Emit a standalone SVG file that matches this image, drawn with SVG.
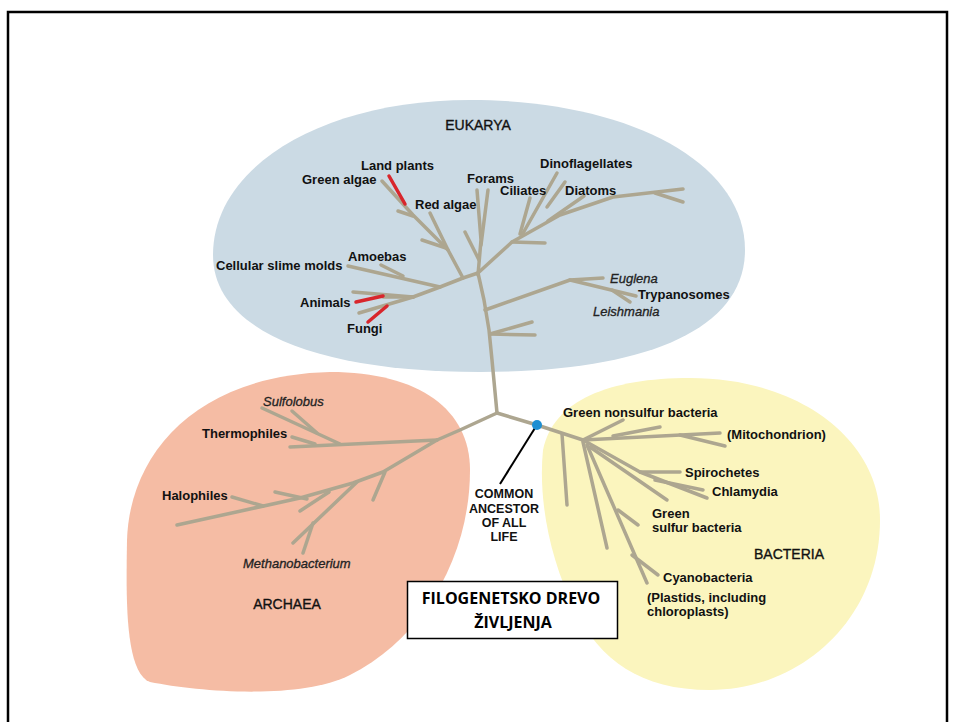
<svg xmlns="http://www.w3.org/2000/svg" width="954" height="722" viewBox="0 0 954 722">
<style>
.br{fill:none;stroke:#ADA690;stroke-width:3.5;stroke-linecap:round;stroke-linejoin:round}
.rd{fill:none;stroke:#D8262C;stroke-width:3.5;stroke-linecap:round}
.lb{font-family:"Liberation Sans",Arial,sans-serif;font-size:13px;font-weight:bold;fill:#111}
.it{font-style:italic;font-weight:normal;fill:#222;stroke:#222;stroke-width:0.3}
.grp{font-family:"Liberation Sans",Arial,sans-serif;font-size:14px;fill:#111;stroke:#111;stroke-width:0.35}
.ttl{font-family:"Open Sans","Liberation Sans",sans-serif;font-size:16px;font-weight:bold;fill:#000}
</style>
<rect width="954" height="722" fill="#fff"/>
<path d="M8,722 V12 H947 V722" fill="none" stroke="#000" stroke-width="2.5"/>

<g id="eukarya-area">
<path d="M470,100 C625,100 745,160 745,250 C745,332 640,372 480,372 C320,372 213,332 213,255 C213,165 325,100 470,100 Z" fill="#CBDAE4"/>
</g>
<g id="archaea-area">
<path d="M330,372 C420,372 470,410 470,470 C470,560 420,640 350,675 C300,700 200,692 150,682 C125,672 126,600 127,540 C130,450 200,375 330,372 Z" fill="#F5BCA4"/>
</g>
<g id="bacteria-area">
<path d="M690,378 C800,378 880,440 880,520 C880,620 800,690 710,690 C640,690 600,660 575,610 C550,560 538,500 543,450 C553,400 610,378 690,378 Z" fill="#FBF5BE"/>
</g>

<g id="connectors">
<path class="br" d="M497,413 L492,360 L489,330 L484,300 L478,273"/>
<path class="br" d="M478,273 L463,278 L440,287 L413,297"/>
<path class="br" d="M440,287 L348,266"/>
<path class="br" d="M403,276 L381,265"/>
<path class="br" d="M413,297 L353,292"/>
<path class="br" d="M413,297 L383,297"/>
<path class="br" d="M413,297 L359,313"/>
<path class="rd" d="M383,296 L356,302"/>
<path class="rd" d="M387,306 L368,322"/>
<path class="br" d="M463,278 L448,250 L413,215 L382,181"/>
<path class="br" d="M448,250 L430,213"/>
<path class="br" d="M446,248 L422,240"/>
<path class="br" d="M413,216 L398,211"/>
<path class="rd" d="M405,204 L389,176"/>
<path class="br" d="M478,275 L481,240 L477,190"/>
<path class="br" d="M481,245 L488,190"/>
<path class="br" d="M479,260 L465,232"/>
<path class="br" d="M478,273 L512,242 L560,215 L613,197 L683,189"/>
<path class="br" d="M512,242 L545,243"/>
<path class="br" d="M520,234 L530,198"/>
<path class="br" d="M522,235 L557,173"/>
<path class="br" d="M547,207 L565,182"/>
<path class="br" d="M548,221 L584,196"/>
<path class="br" d="M655,193 L683,202"/>
<path class="br" d="M485,310 L570,280 L603,278"/>
<path class="br" d="M570,280 L636,296"/>
<path class="br" d="M612,290 L630,302"/>
<path class="br" d="M490,334 L532,322"/>
<path class="br" d="M490,334 L535,335"/>
<path class="br" d="M497,413 L460,430 L437,440"/>
<path class="br" d="M437,440 L290,447"/>
<path class="br" d="M340,444 L262,408"/>
<path class="br" d="M317,433 L292,411"/>
<path class="br" d="M315,444 L292,437"/>
<path class="br" d="M437,440 L383,472 L353,483 L300,498 L177,525"/>
<path class="br" d="M385,472 L373,500"/>
<path class="br" d="M357,482 L293,543"/>
<path class="br" d="M313,523 L303,553"/>
<path class="br" d="M300,511 L329,492"/>
<path class="br" d="M275,492 L307,499"/>
<path class="br" d="M232,497 L263,506"/>
<path class="br" d="M497,413 L537,425 L583,440"/>
<path class="br" d="M562,434 L567,505"/>
<path class="br" d="M583,440 L720,433"/>
<path class="br" d="M583,440 L623,420"/>
<path class="br" d="M613,436 L660,427"/>
<path class="br" d="M680,435 L725,446"/>
<path class="br" d="M583,440 L640,472 L680,472"/>
<path class="br" d="M640,472 L707,498"/>
<path class="br" d="M655,480 L703,490"/>
<path class="br" d="M590,447 L667,500"/>
<path class="br" d="M583,442 L607,548"/>
<path class="br" d="M587,445 L647,583"/>
<path class="br" d="M618,510 L638,525"/>
<path class="br" d="M632,555 L658,575"/>
<path d="M535,428 L500,484" fill="none" stroke="#000" stroke-width="2"/>
</g>

<g id="ancestor">
<circle cx="537" cy="425" r="5" fill="#1E8FD2"/>
<text class="lb" text-anchor="middle" style="font-size:12.5px"><tspan x="504" y="498">COMMON</tspan><tspan x="504" y="513">ANCESTOR</tspan><tspan x="504" y="527">OF ALL</tspan><tspan x="504" y="541">LIFE</tspan></text>
</g>

<g id="eukarya-labels">
<text class="grp" x="478" y="130" text-anchor="middle">EUKARYA</text>
<text class="lb" x="361" y="170">Land plants</text>
<text class="lb" x="302" y="184">Green algae</text>
<text class="lb" x="415" y="209">Red algae</text>
<text class="lb" x="467" y="183">Forams</text>
<text class="lb" x="500" y="195">Ciliates</text>
<text class="lb" x="540" y="168">Dinoflagellates</text>
<text class="lb" x="565" y="195">Diatoms</text>
<text class="lb" x="348" y="261">Amoebas</text>
<text class="lb" x="216" y="270">Cellular slime molds</text>
<text class="lb" x="300" y="307">Animals</text>
<text class="lb" x="347" y="333">Fungi</text>
<text class="lb it" x="610" y="283">Euglena</text>
<text class="lb" x="638" y="299">Trypanosomes</text>
<text class="lb it" x="593" y="316">Leishmania</text>
</g>

<g id="archaea-labels">
<text class="lb it" x="263" y="406">Sulfolobus</text>
<text class="lb" x="202" y="438">Thermophiles</text>
<text class="lb" x="162" y="500">Halophiles</text>
<text class="lb it" x="243" y="568">Methanobacterium</text>
<text class="grp" x="287" y="609" text-anchor="middle">ARCHAEA</text>
</g>

<g id="bacteria-labels">
<text class="lb" x="563" y="417">Green nonsulfur bacteria</text>
<text class="lb" x="727" y="439">(Mitochondrion)</text>
<text class="lb" x="685" y="477">Spirochetes</text>
<text class="lb" x="712" y="496">Chlamydia</text>
<text class="lb"><tspan x="652" y="518">Green</tspan><tspan x="652" y="532">sulfur bacteria</tspan></text>
<text class="grp" x="789" y="559" text-anchor="middle">BACTERIA</text>
<text class="lb" x="663" y="582">Cyanobacteria</text>
<text class="lb"><tspan x="647" y="602">(Plastids, including</tspan><tspan x="647" y="616">chloroplasts)</tspan></text>
</g>

<g id="title">
<rect x="407.5" y="581.5" width="210" height="57" fill="#fff" stroke="#000" stroke-width="1.5"/>
<text class="ttl" text-anchor="middle"><tspan x="511" y="604">FILOGENETSKO DREVO</tspan><tspan x="513" y="628">ŽIVLJENJA</tspan></text>
</g>
</svg>
